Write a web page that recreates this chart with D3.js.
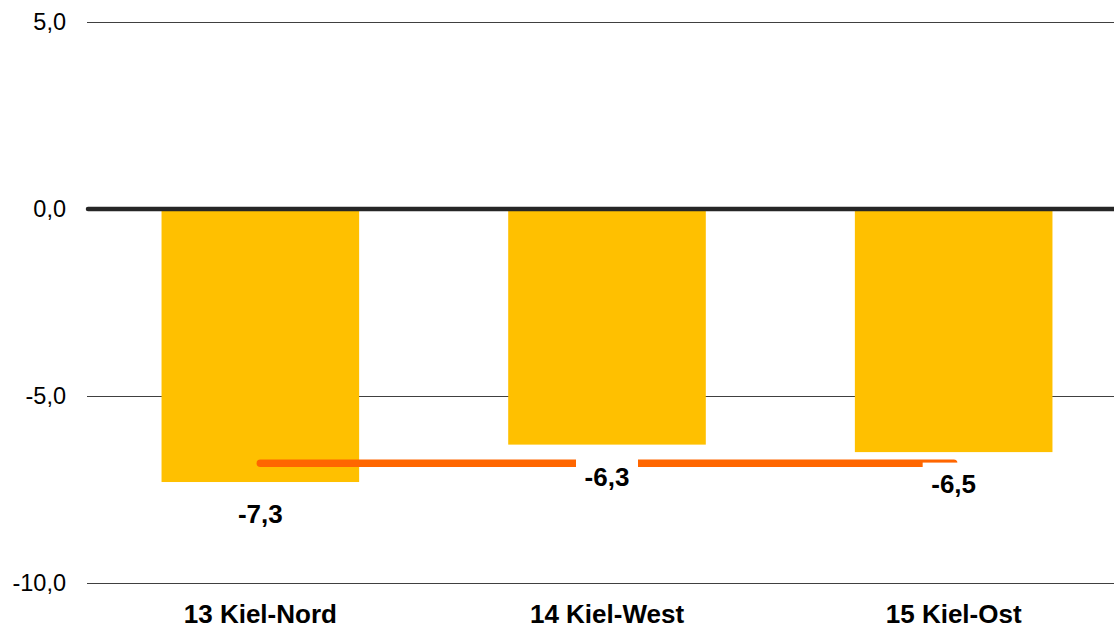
<!DOCTYPE html>
<html><head><meta charset="utf-8">
<script src="https://cdn.jsdelivr.net/npm/d3@7"></script>
<style>html,body{margin:0;padding:0;background:#fff;}svg{display:block;font-family:"Liberation Sans",Arial,sans-serif;}</style>
</head><body>
<script>
const categories = ["13 Kiel-Nord", "14 Kiel-West", "15 Kiel-Ost"];
const values = [-7.3, -6.3, -6.5];
const referenceValue = -6.8;
const yTicks = [5, 0, -5, -10];

const W = 1114, H = 631;
const svg = d3.select("body").append("svg").attr("width", W).attr("height", H);

const x = d3.scaleBand().domain(categories).range([87, 1127]).paddingInner(0.43).paddingOuter(0.215);
const y = d3.scaleLinear().domain([-10, 5]).range([583, 22]);
const fmt = v => d3.format(".1f")(v).replace(".", ",").replace("−", "-");

// gridlines
svg.append("g").selectAll("line").data(yTicks.filter(t => t !== 0)).join("line")
  .attr("x1", 87).attr("x2", W).attr("y1", d => Math.round(y(d)) + 0.5).attr("y2", d => Math.round(y(d)) + 0.5)
  .attr("stroke", "#404040").attr("stroke-width", 1);

// tick labels
svg.append("g").selectAll("text").data(yTicks).join("text")
  .attr("x", 66).attr("y", d => y(d)).attr("dy", "0.36em").attr("text-anchor", "end")
  .attr("font-size", 23.5).attr("fill", "#000").text(d => fmt(d));

// bars
svg.append("g").selectAll("rect").data(values).join("rect")
  .attr("x", (d, i) => x(categories[i])).attr("width", x.bandwidth())
  .attr("y", y(0)).attr("height", d => y(d) - y(0)).attr("fill", "#FFC000");

// zero line
svg.append("line").attr("x1", 88).attr("x2", W + 5).attr("y1", y(0)).attr("y2", y(0))
  .attr("stroke", "#262626").attr("stroke-width", 4.5).attr("stroke-linecap", "round");

// reference line
const cx = c => x(c) + x.bandwidth() / 2;
svg.append("line").attr("x1", cx(categories[0])).attr("x2", cx(categories[2]))
  .attr("y1", y(referenceValue)).attr("y2", y(referenceValue))
  .attr("stroke", "#FF6600").attr("stroke-width", 7.5).attr("stroke-linecap", "round");

// value label boxes and labels
const lab = svg.append("g").selectAll("g").data(values).join("g");
lab.append("rect")
  .attr("x", (d, i) => cx(categories[i]) - 31).attr("width", 62)
  .attr("y", d => y(d) + 10.5).attr("height", 40).attr("fill", "#fff");
lab.append("text")
  .attr("x", (d, i) => cx(categories[i])).attr("y", d => y(d) + 32).attr("dy", "0.36em")
  .attr("text-anchor", "middle").attr("font-size", 26).attr("font-weight", "bold").attr("fill", "#000")
  .text(d => fmt(d));

// category labels
svg.append("g").selectAll("text").data(categories).join("text")
  .attr("x", d => cx(d)).attr("y", 614).attr("dy", "0.36em").attr("text-anchor", "middle")
  .attr("font-size", 26).attr("font-weight", "bold").attr("fill", "#000").text(d => d);
</script>
</body></html>
